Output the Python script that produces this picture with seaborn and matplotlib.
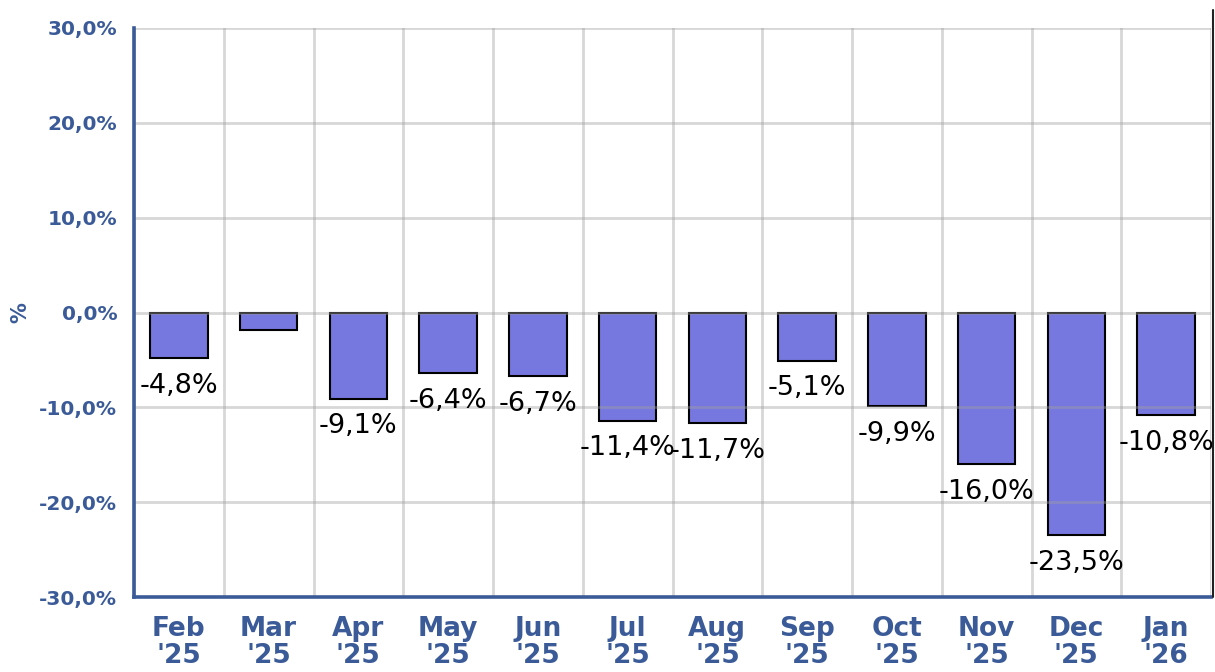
import matplotlib
matplotlib.use("Agg")
import matplotlib.pyplot as plt
import seaborn as sns
import pandas as pd
from matplotlib.ticker import FixedLocator, MultipleLocator, FuncFormatter
from matplotlib.lines import Line2D

months = ["Feb\n'25", "Mar\n'25", "Apr\n'25", "May\n'25", "Jun\n'25", "Jul\n'25",
          "Aug\n'25", "Sep\n'25", "Oct\n'25", "Nov\n'25", "Dec\n'25", "Jan\n'26"]
values = [-4.8, -1.8, -9.1, -6.4, -6.7, -11.4, -11.7, -5.1, -9.9, -16.0, -23.5, -10.8]
show_label = [True, False, True, True, True, True, True, True, True, True, True, True]

BLUE = "#3b5b98"
BAR = "#7777e0"

sns.set_theme(style="white")
plt.rcParams["font.family"] = ["DejaVu Sans"]

fig = plt.figure(figsize=(12.15, 6.72), dpi=100)
ax = fig.add_axes([134/1215, 1-597/672, (1211-134)/1215, (597-28)/672])

df = pd.DataFrame({"month": months, "value": values})
sns.barplot(data=df, x="month", y="value", ax=ax, color=BAR, saturation=1,
            width=0.64, edgecolor="black", linewidth=1.5, zorder=1)

ax.set_xlim(-0.5, len(months) - 0.5)
ax.set_ylim(-30, 30)
ax.set_xlabel("")
ax.set_ylabel("%", color=BLUE, fontweight="bold", fontsize=15)
ax.yaxis.set_label_coords((30-134)/1077, 0.5)

ax.yaxis.set_major_locator(MultipleLocator(10))
ax.yaxis.set_major_formatter(FuncFormatter(lambda v, p: f"{v:.1f}%".replace(".", ",")))
ax.tick_params(axis="y", labelsize=14.5, labelcolor=BLUE, length=0, pad=12)
for t in ax.get_yticklabels():
    t.set_fontweight("bold")

ax.xaxis.set_minor_locator(FixedLocator([i - 0.5 for i in range(len(months) + 1)]))
ax.tick_params(axis="x", which="major", length=0, labelsize=19, labelcolor=BLUE, pad=14)
ax.tick_params(axis="x", which="minor", length=7, width=1.5, color=BLUE, direction="out")
for t in ax.get_xticklabels():
    t.set_fontweight("bold")
    t.set_linespacing(1.05)

ax.set_axisbelow(False)
ax.grid(True, axis="y", which="major", color="#a0a0a0", alpha=0.42, linewidth=2, zorder=2)
ax.grid(True, axis="x", which="minor", color="#a0a0a0", alpha=0.42, linewidth=2, zorder=2)
ax.grid(False, axis="x", which="major")

for s in ["top", "right"]:
    ax.spines[s].set_visible(False)
ax.spines["left"].set_color(BLUE)
ax.spines["left"].set_linewidth(2.6)
ax.spines["bottom"].set_color(BLUE)
ax.spines["bottom"].set_linewidth(2.6)
ax.spines["left"].set_zorder(3)
ax.spines["bottom"].set_zorder(3)

for i, (v, s) in enumerate(zip(values, show_label)):
    if s:
        ax.annotate(f"{v:.1f}%".replace(".", ","), xy=(i, v), xytext=(0, -10.5),
                    textcoords="offset points", ha="center", va="top",
                    fontsize=19.5, color="black", zorder=4, annotation_clip=False)

fig.add_artist(Line2D([1213/1215, 1213/1215], [1-597/672, 1-10/672],
                      transform=fig.transFigure, color="#222222", linewidth=1.5))

fig.savefig("out.png", dpi=100, facecolor="white")
